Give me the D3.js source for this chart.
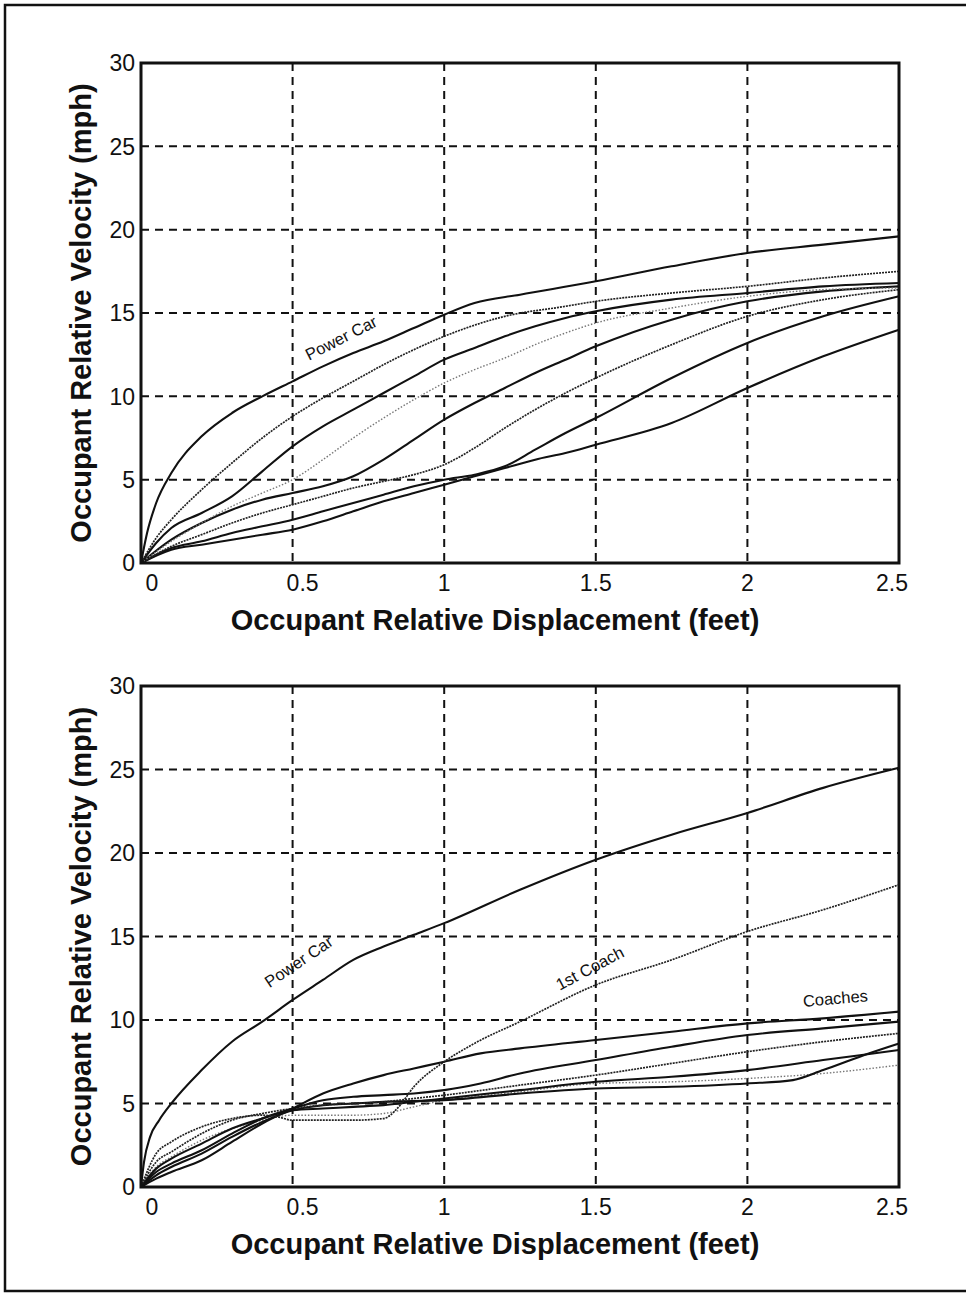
<!DOCTYPE html>
<html>
<head>
<meta charset="utf-8">
<script src="https://cdn.jsdelivr.net/npm/d3@7"></script>
<style>
  body { margin: 0; background: #fff; }
  svg text { font-family: "Liberation Sans", Arial, Helvetica, sans-serif; fill: #111; }
</style>
</head>
<body>
<svg id="chart" width="966" height="1298"></svg>
<script>
// x ticks / y ticks shared by both panels
const xTicks = [0, 0.5, 1, 1.5, 2, 2.5];
const yTicks = [0, 5, 10, 15, 20, 25, 30];

// ---- upper panel: [displacement ft, velocity mph]
const topPowerCar = [[0,0],[0.02,1.8],[0.05,3.6],[0.1,5.4],[0.2,7.6],[0.3,9.0],[0.4,10.0],[0.5,10.9],[0.6,11.8],[0.7,12.6],[0.8,13.3],[0.9,14.1],[1.0,14.9],[1.1,15.6],[1.25,16.1],[1.5,16.9],[1.75,17.8],[2.0,18.6],[2.25,19.1],[2.5,19.6]];
const topCurveB   = [[0,0],[0.05,1.5],[0.1,2.6],[0.2,4.4],[0.3,6.0],[0.4,7.5],[0.5,8.8],[0.6,9.9],[0.7,10.9],[0.8,11.9],[0.9,12.8],[1.0,13.6],[1.2,14.8],[1.4,15.4],[1.5,15.7],[1.75,16.2],[2.0,16.6],[2.25,17.1],[2.5,17.5]];
const topCurveC   = [[0,0],[0.05,1.2],[0.1,2.1],[0.2,3.0],[0.3,4.0],[0.4,5.5],[0.5,7.0],[0.6,8.2],[0.7,9.2],[0.8,10.2],[0.9,11.2],[1.0,12.2],[1.1,12.9],[1.2,13.6],[1.3,14.2],[1.4,14.7],[1.5,15.1],[1.75,15.8],[2.0,16.2],[2.25,16.6],[2.5,16.8]];
const topCurveD   = [[0,0],[0.1,1.3],[0.2,2.4],[0.3,3.4],[0.4,4.2],[0.5,5.0],[0.6,6.2],[0.7,7.5],[0.8,8.7],[0.9,9.8],[1.0,10.8],[1.1,11.6],[1.2,12.3],[1.3,13.1],[1.4,13.8],[1.5,14.4],[1.75,15.3],[2.0,16.0],[2.25,16.4],[2.5,16.5]];
const topCurveE   = [[0,0],[0.1,1.4],[0.2,2.4],[0.3,3.2],[0.4,3.8],[0.5,4.2],[0.6,4.6],[0.7,5.2],[0.8,6.2],[0.9,7.4],[1.0,8.6],[1.1,9.6],[1.2,10.5],[1.3,11.4],[1.4,12.2],[1.5,13.0],[1.75,14.6],[2.0,15.7],[2.25,16.3],[2.5,16.6]];
const topCurveF   = [[0,0],[0.1,1.0],[0.2,1.7],[0.3,2.4],[0.4,3.0],[0.5,3.5],[0.6,4.0],[0.7,4.5],[0.8,4.9],[0.9,5.3],[1.0,5.9],[1.1,6.9],[1.2,8.1],[1.3,9.2],[1.4,10.2],[1.5,11.1],[1.75,13.1],[2.0,14.8],[2.25,15.8],[2.5,16.4]];
const topCurveG   = [[0,0],[0.1,0.9],[0.2,1.3],[0.3,1.8],[0.4,2.2],[0.5,2.6],[0.6,3.1],[0.7,3.6],[0.8,4.1],[0.9,4.6],[1.0,5.0],[1.1,5.3],[1.2,5.8],[1.3,6.8],[1.4,7.8],[1.5,8.7],[1.75,11.1],[2.0,13.2],[2.25,14.8],[2.5,16.0]];
const topCurveH   = [[0,0],[0.1,0.8],[0.2,1.1],[0.3,1.4],[0.4,1.7],[0.5,2.0],[0.6,2.5],[0.7,3.1],[0.8,3.7],[0.9,4.2],[1.0,4.7],[1.1,5.2],[1.2,5.7],[1.3,6.2],[1.4,6.6],[1.5,7.1],[1.75,8.4],[2.0,10.5],[2.25,12.4],[2.5,14.0]];

// ---- lower panel
const botPowerCar = [[0,0],[0.01,1.5],[0.03,3.0],[0.06,4.0],[0.1,5.0],[0.2,7.0],[0.3,8.7],[0.4,9.9],[0.5,11.2],[0.6,12.4],[0.7,13.6],[0.8,14.4],[0.9,15.1],[1.0,15.8],[1.25,17.8],[1.5,19.6],[1.75,21.1],[2.0,22.4],[2.25,23.9],[2.5,25.1]];
const botFirstCoach = [[0,0],[0.05,2.0],[0.1,2.7],[0.2,3.6],[0.3,4.1],[0.4,4.3],[0.45,4.2],[0.5,4.0],[0.6,4.0],[0.7,4.0],[0.8,4.1],[0.85,4.8],[0.9,6.0],[1.0,7.5],[1.1,8.6],[1.25,9.9],[1.5,12.1],[1.75,13.6],[2.0,15.3],[2.25,16.6],[2.5,18.1]];
const botCoach1 = [[0,0],[0.05,0.5],[0.1,0.9],[0.2,1.6],[0.3,2.7],[0.4,3.8],[0.5,4.7],[0.6,5.6],[0.7,6.2],[0.8,6.7],[0.9,7.1],[1.0,7.5],[1.12,8.0],[1.25,8.3],[1.5,8.8],[1.75,9.3],[2.0,9.8],[2.25,10.1],[2.5,10.5]];
const botCoach2 = [[0,0],[0.05,0.9],[0.1,1.4],[0.2,2.2],[0.3,3.2],[0.4,4.1],[0.5,4.7],[0.6,5.2],[0.7,5.4],[0.8,5.5],[0.9,5.6],[1.0,5.8],[1.12,6.2],[1.25,6.8],[1.5,7.6],[1.75,8.4],[2.0,9.1],[2.25,9.5],[2.5,9.9]];
const botCoach3 = [[0,0],[0.05,1.5],[0.1,2.1],[0.2,3.2],[0.3,4.0],[0.4,4.4],[0.5,4.7],[0.6,4.9],[0.7,5.0],[0.8,5.1],[0.9,5.3],[1.0,5.5],[1.25,6.1],[1.5,6.7],[1.75,7.4],[2.0,8.1],[2.25,8.7],[2.5,9.2]];
const botCoach4 = [[0,0],[0.05,0.7],[0.1,1.2],[0.2,2.0],[0.3,3.0],[0.4,3.9],[0.5,4.6],[0.6,4.9],[0.7,5.0],[0.8,5.1],[1.0,5.2],[1.25,5.6],[1.5,5.9],[1.75,6.0],[2.0,6.2],[2.15,6.4],[2.25,7.0],[2.4,8.0],[2.5,8.6]];
const botCoach5 = [[0,0],[0.05,1.1],[0.1,1.7],[0.2,2.6],[0.3,3.5],[0.4,4.1],[0.5,4.6],[0.6,4.7],[0.7,4.8],[0.8,4.9],[0.9,5.1],[1.0,5.3],[1.25,5.8],[1.5,6.3],[1.75,6.6],[2.0,7.0],[2.25,7.6],[2.5,8.2]];
const botCoach6 = [[0,0],[0.05,1.2],[0.1,1.8],[0.2,2.8],[0.3,3.5],[0.4,4.0],[0.5,4.3],[0.6,4.3],[0.7,4.3],[0.8,4.4],[0.9,4.8],[1.0,5.2],[1.25,5.7],[1.5,6.2],[1.75,6.3],[2.0,6.5],[2.25,6.8],[2.5,7.3]];

const STYLES = {
    solid: { stroke: '#111', width: 2.1, dash: null },
    dense: { stroke: '#222', width: 1.7, dash: '2,1' },
    light: { stroke: '#777', width: 1.4, dash: '1.5,1.8' }
};

const panels = [
    {
        top: 63, bottom: 563,
        series: [
            { data: topCurveH, style: 'solid' },
            { data: topCurveG, style: 'solid' },
            { data: topCurveF, style: 'dense' },
            { data: topCurveE, style: 'solid' },
            { data: topCurveD, style: 'light' },
            { data: topCurveC, style: 'solid' },
            { data: topCurveB, style: 'dense' },
            { data: topPowerCar, style: 'solid' }
        ],
        labels: [
            { text: 'Power Car', x: 0.66, v: 13.5, angle: -27 }
        ]
    },
    {
        top: 686, bottom: 1187,
        series: [
            { data: botCoach6, style: 'light' },
            { data: botCoach5, style: 'solid' },
            { data: botCoach4, style: 'solid' },
            { data: botCoach3, style: 'dense' },
            { data: botCoach2, style: 'solid' },
            { data: botCoach1, style: 'solid' },
            { data: botFirstCoach, style: 'dense' },
            { data: botPowerCar, style: 'solid' }
        ],
        labels: [
            { text: 'Power Car', x: 0.52, v: 13.5, angle: -34 },
            { text: '1st Coach', x: 1.48, v: 13.1, angle: -28 },
            { text: 'Coaches', x: 2.29, v: 11.3, angle: -5 }
        ]
    }
];

const svg = d3.select('#chart');

// outer frame (open on the right, as in the scan)
svg.append('path')
    .attr('d', 'M966,5 H5 V1291 H966')
    .attr('fill', 'none')
    .attr('stroke', '#111')
    .attr('stroke-width', 2.5);

const left = 141, right = 899;

function tickShift(d) {
    if (d === 0) return 11;
    if (d === 0.5) return 10;
    if (d === 2.5) return -7;
    return 0;
}

panels.forEach(function(p) {
    const x = d3.scaleLinear().domain([0, 2.5]).range([left, right]);
    const y = d3.scaleLinear().domain([0, 30]).range([p.bottom, p.top]);
    const g = svg.append('g');

    // grid
    g.selectAll('.gx')
        .data(xTicks.filter(function(d) { return d > 0 && d < 2.5; }))
        .enter().append('line')
        .attr('x1', function(d) { return x(d); })
        .attr('x2', function(d) { return x(d); })
        .attr('y1', p.top).attr('y2', p.bottom)
        .attr('stroke', '#111').attr('stroke-width', 2)
        .attr('stroke-dasharray', '8,6');

    g.selectAll('.gy')
        .data(yTicks.filter(function(d) { return d > 0 && d < 30; }))
        .enter().append('line')
        .attr('x1', left).attr('x2', right)
        .attr('y1', function(d) { return y(d); })
        .attr('y2', function(d) { return y(d); })
        .attr('stroke', '#111').attr('stroke-width', 2)
        .attr('stroke-dasharray', '8,6');

    // curves
    const line = d3.line()
        .x(function(d) { return x(d[0]); })
        .y(function(d) { return y(d[1]); })
        .curve(d3.curveMonotoneX);

    p.series.forEach(function(s) {
        const st = STYLES[s.style];
        g.append('path')
            .datum(s.data)
            .attr('fill', 'none')
            .attr('stroke', st.stroke)
            .attr('stroke-width', st.width)
            .attr('stroke-dasharray', st.dash)
            .attr('stroke-linejoin', 'round')
            .attr('d', line);
    });

    // curve labels
    p.labels.forEach(function(l) {
        g.append('text')
            .attr('transform', 'translate(' + x(l.x) + ',' + y(l.v) + ') rotate(' + l.angle + ')')
            .attr('text-anchor', 'middle')
            .attr('dy', '0.35em')
            .style('font-size', '16.5px')
            .text(l.text);
    });

    // plot frame
    g.append('rect')
        .attr('x', left).attr('y', p.top)
        .attr('width', right - left).attr('height', p.bottom - p.top)
        .attr('fill', 'none')
        .attr('stroke', '#111')
        .attr('stroke-width', 3);

    // y tick labels
    g.selectAll('.yl')
        .data(yTicks)
        .enter().append('text')
        .attr('x', left - 6)
        .attr('y', function(d) { return y(d); })
        .attr('dy', '0.36em')
        .attr('text-anchor', 'end')
        .style('font-size', '23px')
        .text(function(d) { return d; });

    // x tick labels
    g.selectAll('.xl')
        .data(xTicks)
        .enter().append('text')
        .attr('x', function(d) { return x(d) + tickShift(d); })
        .attr('y', p.bottom + 28)
        .attr('text-anchor', 'middle')
        .style('font-size', '23px')
        .text(function(d) { return d; });

    // axis titles
    g.append('text')
        .attr('x', 495)
        .attr('y', p.bottom + 67)
        .attr('text-anchor', 'middle')
        .style('font-size', '29px')
        .style('font-weight', 'bold')
        .text('Occupant Relative Displacement (feet)');

    g.append('text')
        .attr('transform', 'translate(91,' + ((p.top + p.bottom) / 2) + ') rotate(-90)')
        .attr('text-anchor', 'middle')
        .style('font-size', '29px')
        .style('font-weight', 'bold')
        .text('Occupant Relative Velocity (mph)');
});
</script>
</body>
</html>
